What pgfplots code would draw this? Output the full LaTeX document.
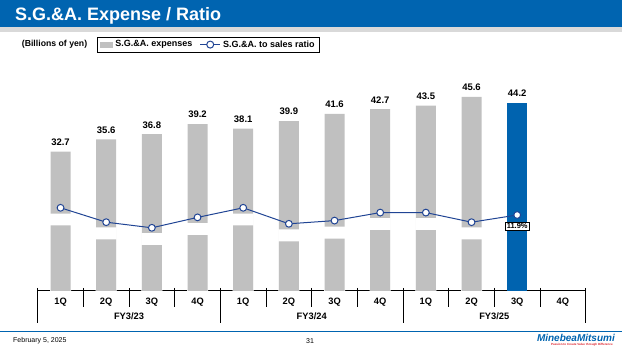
\documentclass[border=0pt]{standalone}
\usepackage{fontspec}
\setmainfont{Liberation Sans}
\usepackage{pgfplots}
\pgfplotsset{compat=1.18}
\definecolor{titleblue}{RGB}{0,100,176}
\definecolor{barblue}{RGB}{0,99,175}
\definecolor{bargrey}{RGB}{192,192,192}
\definecolor{linenavy}{RGB}{32,68,148}
\definecolor{stripe}{RGB}{217,217,217}
\definecolor{logored}{RGB}{220,30,40}
\begin{document}
\begin{tikzpicture}
\path[use as bounding box] (0pt,0pt) rectangle (622pt,350pt);
\fill[titleblue] (0pt,322.7pt) rectangle (622pt,350pt);
\fill[stripe] (0pt,318pt) rectangle (622pt,322.7pt);
\node[anchor=base west, text=white, font=\fontsize{18}{18}\selectfont\bfseries, inner sep=0] at (15pt,329.5pt) {S.G.\&A. Expense / Ratio};
\node[anchor=west, font=\fontsize{8.7}{8.7}\selectfont\bfseries, inner sep=0] at (21.7pt,306pt) {(Billions of yen)};

\begin{axis}[
  at={(37.7pt,59pt)}, anchor=south west,
  scale only axis, width=548pt, height=231pt,
  xmin=-0.5, xmax=11.5, ymin=0, ymax=54.23,
  axis x line*=bottom, axis y line=none,
  axis line style={black, line width=1pt},
  clip=false,
  xtick={0,...,11},
  xticklabels={1Q,2Q,3Q,4Q,1Q,2Q,3Q,4Q,1Q,2Q,3Q,4Q},
  major tick length=0pt,
  xticklabel style={font=\fontsize{9.3}{9.3}\selectfont\bfseries, anchor=base, yshift=-14pt},
  /pgf/number format/assume math mode=true,
  every node near coord/.append style={font=\fontsize{9.5}{9.5}\selectfont\bfseries, yshift=2.4pt, text=black},
  legend style={at={(axis description cs:0.1082,1.1009)}, anchor=north west, draw=black, line width=0.8pt,
    font=\fontsize{9}{9}\selectfont\bfseries, inner xsep=3pt, inner ysep=1.5pt,
    /tikz/every even column/.append style={column sep=5pt}},
  legend columns=2,
]
\addplot[ybar, bar width=20pt, bar shift=0pt, fill=bargrey, draw=none,
  nodes near coords={\pgfmathprintnumber[fixed,fixed zerofill,precision=1]{\pgfplotspointmeta}},
  legend image code/.code={\fill[bargrey] (0pt,-3pt) rectangle (13pt,3pt);}]
  coordinates {(0,32.7)(1,35.6)(2,36.8)(3,39.2)(4,38.1)(5,39.9)(6,41.6)(7,42.7)(8,43.5)(9,45.6)};
\addlegendentry{S.G.\&A. expenses}
\addplot[forget plot, ybar, bar width=20pt, bar shift=0pt, fill=barblue, draw=none,
  nodes near coords={\pgfmathprintnumber[fixed,fixed zerofill,precision=1]{\pgfplotspointmeta}}]
  coordinates {(10,44.2)};
% white break band in the bars (top of the break)
\addplot[forget plot, ybar, bar width=21pt, bar shift=0pt, fill=white, draw=none]
  coordinates {(0,18.19)(1,14.91)(2,13.57)(3,15.92)(4,18.19)(5,14.44)(6,15.14)(7,17.09)(8,17.09)(9,14.91)};
% lower part of each broken bar
\addplot[forget plot, ybar, bar width=20pt, bar shift=0pt, fill=bargrey, draw=none]
  coordinates {(0,15.38)(1,12.09)(2,10.75)(3,13.10)(4,15.38)(5,11.62)(6,12.32)(7,14.27)(8,14.27)(9,12.09)};
\addlegendimage{legend image code/.code={\draw[linenavy, line width=1.6pt] (0pt,0pt) -- (20pt,0pt); \draw[linenavy, line width=1pt, fill=white] (10pt,0pt) circle (3.5pt);}}
\addlegendentry{S.G.\&A. to sales ratio}
\end{axis}

\begin{axis}[
  at={(37.7pt,59pt)}, anchor=south west,
  scale only axis, width=548pt, height=231pt,
  xmin=-0.5, xmax=11.5, ymin=2.4, ymax=31.275,
  hide axis, clip=false,
]
\addplot[linenavy, line width=1pt, mark=*, mark size=3.4pt,
  mark options={fill=white, draw=linenavy, line width=1pt}]
  coordinates {(0,12.8)(1,11.0)(2,10.3)(3,11.6)(4,12.8)(5,10.8)(6,11.2)(7,12.2)(8,12.2)(9,11.0)(10,11.9)};
\node[draw=black, fill=white, line width=0.8pt, inner sep=1.3pt, font=\fontsize{7.5}{7.5}\selectfont\bfseries, yshift=-11.2pt]
  at (axis cs:10,11.9) {11.9\%};
\end{axis}

% category axis separators
\foreach \i in {1,2,3,5,6,7,9,10,11}
  \draw[line width=0.8pt] ({37.7pt+45.6667pt*\i},62pt) -- ({37.7pt+45.6667pt*\i},43pt);
\foreach \i in {0,4,8,12}
  \draw[line width=0.8pt] ({37.7pt+45.6667pt*\i},62pt) -- ({37.7pt+45.6667pt*\i},27pt);
\node[anchor=base, font=\fontsize{9.3}{9.3}\selectfont\bfseries, inner sep=0] at (129.0pt,30pt) {FY3/23};
\node[anchor=base, font=\fontsize{9.3}{9.3}\selectfont\bfseries, inner sep=0] at (311.7pt,30pt) {FY3/24};
\node[anchor=base, font=\fontsize{9.3}{9.3}\selectfont\bfseries, inner sep=0] at (494.3pt,30pt) {FY3/25};

% footer
\draw[titleblue, line width=1.5pt] (0pt,18.3pt) -- (622pt,18.3pt);
\node[anchor=west, font=\fontsize{7}{7}\selectfont, inner sep=0] at (13pt,9.3pt) {February 5, 2025};
\node[font=\fontsize{7}{7}\selectfont, inner sep=0] at (310pt,9.3pt) {31};
\node[anchor=east, font=\fontsize{10}{10}\selectfont\bfseries\itshape, text=titleblue, inner sep=0] at (615pt,12.5pt) {MinebeaMitsumi};
\node[anchor=east, font=\fontsize{3}{3}\selectfont\bfseries, text=logored, inner sep=0] at (613pt,5pt) {Passion to Create Value through Difference};
\end{tikzpicture}
\end{document}
